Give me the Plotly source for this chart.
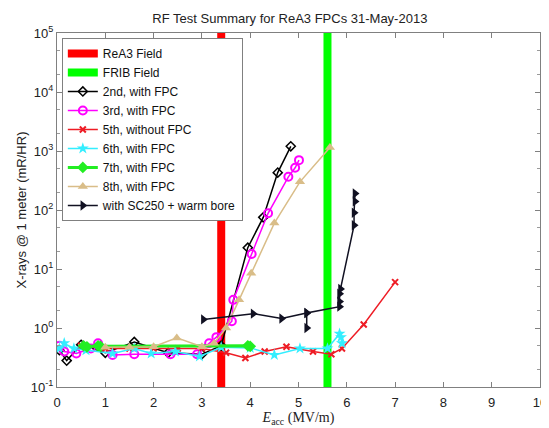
import plotly.graph_objects as go

# ---- data ----
rea3_field = 3.4
frib_field = 5.6

x_2nd = [0.05, 0.2, 0.5, 1.0, 1.6, 2.3, 3.0, 3.4, 3.95, 4.27, 4.57, 4.84]
y_2nd = [0.42, 0.28, 0.52, 0.38, 0.58, 0.38, 0.36, 0.5, 23, 75, 430, 1200]

x_3rd = [0.05, 0.15, 0.4, 0.7, 0.85, 1.15, 1.6, 2.35, 2.9, 3.15, 3.3, 3.62, 3.65, 4.03, 4.37, 4.79, 4.93, 5.01]
y_3rd = [0.5, 0.4, 0.37, 0.45, 0.55, 0.35, 0.36, 0.36, 0.36, 0.55, 0.7, 1.3, 3.0, 18, 88, 365, 520, 700]

x_5th = [0.5, 1.0, 1.5, 2.0, 2.5, 3.0, 3.5, 3.9, 4.3, 4.75, 5.3, 5.68, 5.9, 6.35, 7.0]
y_5th = [0.5, 0.45, 0.45, 0.45, 0.45, 0.45, 0.38, 0.31, 0.4, 0.48, 0.4, 0.36, 0.45, 1.15, 6.0]

x_6th = [0.05, 0.15, 0.35, 0.6, 1.15, 1.6, 1.95, 2.45, 2.95, 3.4, 4.0, 4.5, 5.03, 5.6, 5.85, 5.88, 5.9]
y_6th = [0.45, 0.55, 0.45, 0.42, 0.37, 0.45, 0.37, 0.4, 0.33, 0.47, 0.46, 0.35, 0.45, 0.45, 0.8, 0.7, 0.55]

x_7th = [0.55, 0.62, 0.85, 0.9, 3.95, 4.0]
y_7th = [0.5, 0.48, 0.5, 0.49, 0.5, 0.49]

x_8th = [1.0, 1.5, 2.0, 2.48, 3.0, 3.25, 3.5, 3.77, 4.02, 4.5, 5.03, 5.65]
y_8th = [0.47, 0.47, 0.48, 0.68, 0.48, 0.55, 1.0, 3.0, 8.5, 60, 300, 1150]

x_sc = [3.03, 4.06, 4.65, 5.17, 5.17, 5.17, 5.85, 5.85, 5.85, 5.87, 6.15, 6.15, 6.17, 6.17]
y_sc = [1.4, 1.75, 1.45, 1.8, 1.0, 1.8, 2.3, 2.8, 3.8, 4.6, 55, 90, 140, 190]

y_range_log = [-1, 5]
y_tick_vals = [0.1, 1, 10, 100, 1000, 10000, 100000]
y_tick_text = ["10<sup>-1</sup>", "10<sup>0</sup>", "10<sup>1</sup>", "10<sup>2</sup>",
               "10<sup>3</sup>", "10<sup>4</sup>", "10<sup>5</sup>"]
x_tick_vals = [0, 1, 2, 3, 4, 5, 6, 7, 8, 9, 10]

fig = go.Figure()

fig.add_trace(go.Scatter(x=[rea3_field, rea3_field], y=[0.1, 1e5], mode="lines",
                         line=dict(color="#FF0000", width=8), name="ReA3 Field"))
fig.add_trace(go.Scatter(x=[frib_field, frib_field], y=[0.1, 1e5], mode="lines",
                         line=dict(color="#00FF00", width=8), name="FRIB Field"))

fig.add_trace(go.Scatter(x=x_2nd, y=y_2nd, mode="lines+markers", name="2nd, with FPC",
                         line=dict(color="#000000", width=1.5),
                         marker=dict(symbol="diamond-open", size=7, color="#000000", line=dict(width=1.5))))
fig.add_trace(go.Scatter(x=x_3rd, y=y_3rd, mode="lines+markers", name="3rd, with FPC",
                         line=dict(color="#FF00FF", width=1.5),
                         marker=dict(symbol="circle-open", size=8, color="#FF00FF", line=dict(width=2))))
fig.add_trace(go.Scatter(x=x_5th, y=y_5th, mode="lines+markers", name="5th, without FPC",
                         line=dict(color="#EE1C25", width=1.5),
                         marker=dict(symbol="x-thin-open", size=6, color="#EE1C25", line=dict(width=2))))
fig.add_trace(go.Scatter(x=x_6th, y=y_6th, mode="lines+markers", name="6th, with FPC",
                         line=dict(color="#33EEFF", width=1.5),
                         marker=dict(symbol="star", size=9, color="#33EEFF")))
fig.add_trace(go.Scatter(x=x_7th, y=y_7th, mode="lines+markers", name="7th, with FPC",
                         line=dict(color="#22EE22", width=3),
                         marker=dict(symbol="diamond", size=9, color="#22EE22")))
fig.add_trace(go.Scatter(x=x_8th, y=y_8th, mode="lines+markers", name="8th, with FPC",
                         line=dict(color="#D9BD88", width=1.5),
                         marker=dict(symbol="triangle-up", size=9, color="#D9BD88")))
fig.add_trace(go.Scatter(x=x_sc, y=y_sc, mode="lines+markers", name="with SC250 + warm bore",
                         line=dict(color="#111122", width=1.5),
                         marker=dict(symbol="triangle-right", size=9, color="#111122")))

axis_common = dict(showgrid=False, zeroline=False, showline=True, linecolor="#808080",
                   linewidth=1, mirror="ticks", ticks="inside", tickcolor="#808080",
                   automargin=False)

fig.update_xaxes(range=[0, 10], tickvals=x_tick_vals, ticklen=5, **axis_common,
                 ticklabelstandoff=3,
                 tickfont=dict(family="Liberation Sans, Arial", size=13, color="#222"),
                 title=dict(text="<i>E</i><sub>acc</sub> (MV/m)", standoff=2,
                            font=dict(family="Liberation Serif, Times New Roman", size=14, color="#222")))
fig.update_yaxes(type="log", range=y_range_log, tickvals=y_tick_vals, ticktext=y_tick_text,
                 ticklen=5, **axis_common,
                 tickfont=dict(family="Liberation Sans, Arial", size=13, color="#222"),
                 minor=dict(ticks="inside", ticklen=3, tickcolor="#9a9a9a", showgrid=False),
                 title=dict(text="X-rays @ 1 meter (mR/HR)", standoff=1,
                            font=dict(family="Liberation Sans, Arial", size=13, color="#222")))

# the page body adds an 8px margin, so the figure is sized/offset to compensate
fig.update_layout(
    width=541, height=420,
    margin=dict(l=49, r=9, t=25, b=41, autoexpand=False),
    paper_bgcolor="white", plot_bgcolor="white",
    title=dict(text="RF Test Summary for ReA3 FPCs 31-May-2013", x=0.521, xanchor="center",
               y=0.975, yanchor="middle",
               font=dict(family="Liberation Sans, Arial", size=13, color="#222")),
    legend=dict(x=0.01, y=0.986, xanchor="left", yanchor="top", bgcolor="white",
                bordercolor="#808080", borderwidth=1, tracegroupgap=0,
                font=dict(family="Liberation Sans, Arial", size=12, color="#111"),
                itemwidth=30),
    showlegend=True,
)

fig.write_html("out.html")
